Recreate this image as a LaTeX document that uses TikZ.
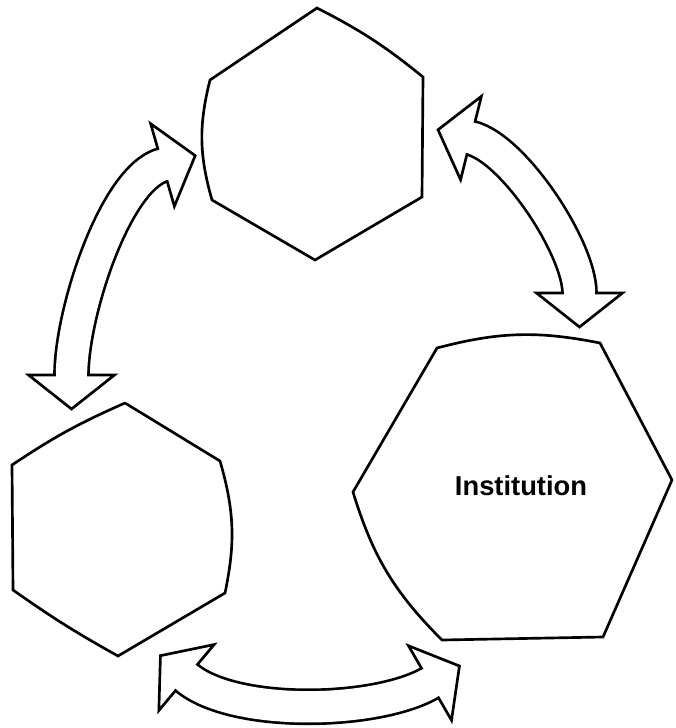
\documentclass[tikz,border=0pt]{standalone}
\usepackage{fontspec}
\setsansfont{Liberation Sans}
\usepackage{tikz}
\usetikzlibrary{calc}
\tikzset{
  hexa/.style={draw, line width=2pt},
  hexlabel/.style={font=\sffamily\bfseries\fontsize{20.5}{24}\selectfont, inner sep=0pt},
  shaft/.style={draw=white, line width=23.5pt, preaction={draw=black, line width=27.5pt}},
  fathead/.pic={
    \fill[white] (-1,15.6) -- (0,15.6) -- (0,43) -- (34,0) -- (0,-43) -- (0,-15.6) -- (-1,-15.6) -- cycle;
    \draw[line width=2pt] (0,15.7) -- (0,43) -- (34,0) -- (0,-43) -- (0,-15.7);
  },
}

\begin{document}
\begin{tikzpicture}[x=0.75pt, y=0.75pt]
  \useasboundingbox (0,0) rectangle (675,-728);

  \draw[hexa] (317,-8) to[bend left=6] (423,-77) -- (422,-197) -- (315,-260)
    -- (212,-200) to[bend left=15] (210,-80) -- cycle;
  \draw[hexa] (125,-403) -- (220,-461) to[bend left=14] (225,-593) -- (118,-656)
    to[bend left=3] (13,-590) -- (12,-465) to[bend left=5] (125,-403);
  \draw[hexa] (437,-348) to[bend left=13] (600,-343) -- (672,-480) -- (603,-637)
    -- (442,-640) to[bend left=14] (353,-492) -- cycle;
  \node[hexlabel] (INST) at (521,-486) {Institution};

  \coordinate (TL_lo) at (71.5,-375);
  \coordinate (TL_hi) at (162.5,-165);
  \coordinate (TI_hi) at (471,-138);
  \coordinate (TI_lo) at (579.5,-293);
  \coordinate (LI_l) at (186.5,-677.5);
  \coordinate (LI_r) at (430,-683);

  \draw[shaft] (TL_lo) to[out=90, in=196, out looseness=0.7, in looseness=0.55] (TL_hi);
  \draw[shaft] (TI_hi) to[out=-14, in=90, looseness=0.6] (TI_lo);
  \draw[shaft] (LI_l) to[out=-40, in=210, looseness=0.65] (LI_r);

  \pic[rotate=-90] at (TL_lo) {fathead};
  \pic[rotate=16] at (TL_hi) {fathead};
  \pic[rotate=166] at (TI_hi) {fathead};
  \pic[rotate=-90] at (TI_lo) {fathead};
  \pic[rotate=140] at (LI_l) {fathead};
  \pic[rotate=30] at (LI_r) {fathead};
\end{tikzpicture}
\end{document}
